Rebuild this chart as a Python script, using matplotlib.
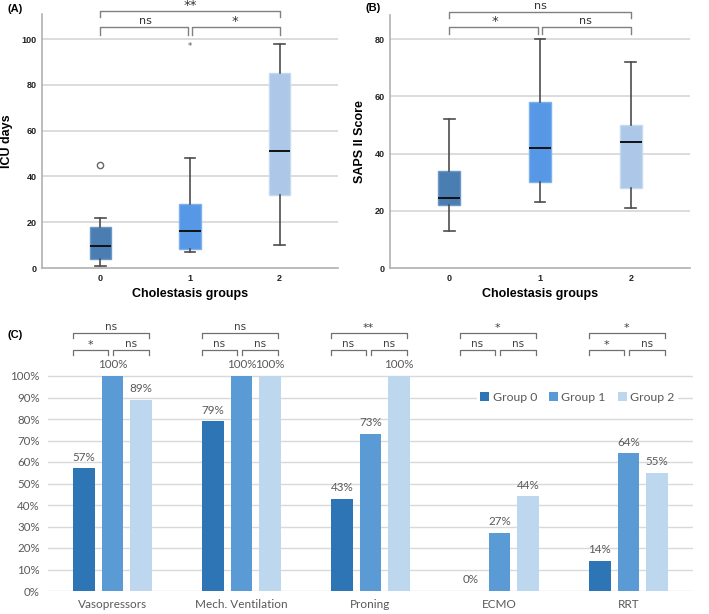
import matplotlib
matplotlib.use("Agg")
import matplotlib.pyplot as plt
from matplotlib.patches import Patch

# ---- data ----
groups = ["0", "1", "2"]
box_colors = ["#4A7DB1", "#5697E6", "#ACC7E8"]
box_edges = ["#6C98C6", "#7EB0EE", "#C5D9F1"]

# ICU days (panel A): low whisker, Q1, median, Q3, high whisker
icu_low = [1, 7, 10]
icu_q1 = [4, 8.5, 32]
icu_med = [9.5, 16, 51]
icu_q3 = [18, 28, 85]
icu_high = [22, 48, 98]
icu_outlier_circle = [45, None, None]
icu_outlier_star = [None, 97, None]

# SAPS II (panel B)
saps_low = [13, 23, 21]
saps_q1 = [22, 30, 28]
saps_med = [24.5, 42, 44]
saps_q3 = [34, 58, 50]
saps_high = [52, 80, 72]

# bracket labels (0-1, 1-2, 0-2)
icu_sig = ["ns", "*", "**"]
saps_sig = ["*", "ns", "ns"]

# panel C
categories = ["Vasopressors", "Mech. Ventilation", "Proning", "ECMO", "RRT"]
series_names = ["Group 0", "Group 1", "Group 2"]
group0 = [57, 79, 43, 0, 14]
group1 = [100, 100, 73, 27, 64]
group2 = [89, 100, 100, 44, 55]
bar_colors = ["#2E75B6", "#5B9BD5", "#BDD7EE"]
c_sig = [["*", "ns", "ns"], ["ns", "ns", "ns"], ["ns", "ns", "**"],
         ["ns", "ns", "*"], ["*", "ns", "*"]]

W, H = 709, 614
fig = plt.figure(figsize=(W / 100, H / 100), dpi=100)


def frac(x0, y_top, x1, y_bot):
    return [x0 / W, 1 - y_bot / H, (x1 - x0) / W, (y_bot - y_top) / H]


def sig_text(ax, x, y, s, fs_ns, fs_star, col, star_off=1.5):
    if "*" in s:
        # asterisks sit high in the glyph box: anchor on the baseline
        ax.annotate(s, (x, y), xytext=(0, star_off), textcoords="offset points",
                    ha="center", va="baseline", fontsize=fs_star, color=col,
                    family="DejaVu Sans", annotation_clip=False)
    else:
        ax.annotate(s, (x, y), xytext=(0, 0.5), textcoords="offset points",
                    ha="center", va="bottom", fontsize=fs_ns, color=col,
                    family="DejaVu Sans", annotation_clip=False)


def boxpanel(ax, low, q1, med, q3, high, ymax, yticks, ylabel, sig, brk):
    stats = []
    for i in range(3):
        stats.append(dict(whislo=low[i], q1=q1[i], med=med[i], q3=q3[i],
                          whishi=high[i], fliers=[], label=groups[i]))
    bp = ax.bxp(stats, positions=range(3), widths=0.24, patch_artist=True,
                showfliers=False, capwidths=0.12,
                whiskerprops=dict(color="#4d4d4d", lw=1.2),
                capprops=dict(color="#4d4d4d", lw=1.2),
                medianprops=dict(color="#111111", lw=1.4))
    for patch, fc, ec in zip(bp["boxes"], box_colors, box_edges):
        patch.set_facecolor(fc)
        patch.set_edgecolor(ec)
        patch.set_linewidth(1.0)
    for b in bp["whiskers"] + bp["caps"] + bp["boxes"] + bp["medians"]:
        b.set_zorder(3)
    ax.set_xlim(-0.65, 2.65)
    ax.set_ylim(0, ymax)
    ax.set_yticks(yticks)
    ax.set_yticklabels([str(t) for t in yticks], fontsize=6.5,
                       fontweight="bold", color="#222222", family="Liberation Sans")
    ax.set_xticks(range(3))
    ax.set_xticklabels(groups, fontsize=6.5, fontweight="bold",
                       color="#222222", family="Liberation Sans")
    ax.tick_params(length=0, pad=4)
    for t in yticks[1:]:
        ax.axhline(t, color="#d9d9d9", lw=1.3, zorder=1)
    for s in ["top", "right"]:
        ax.spines[s].set_visible(False)
    for s in ["left", "bottom"]:
        ax.spines[s].set_color("#b0b0b0")
        ax.spines[s].set_linewidth(1.2)
    ax.set_xlabel("Cholestasis groups", fontsize=9, fontweight="bold",
                  family="Liberation Sans", labelpad=4)
    ax.set_ylabel(ylabel, fontsize=9, fontweight="bold",
                  family="Liberation Sans", labelpad=6)
    # significance brackets: (lower line, lower tip, upper line, upper tip)
    lo, lo_tip, hi, hi_tip = brk
    kw = dict(color="#808080", lw=1.0, clip_on=False)
    ax.plot([0, 0, 0.98, 0.98], [lo_tip, lo, lo, lo_tip], **kw)
    ax.plot([1.02, 1.02, 2, 2], [lo_tip, lo, lo, lo_tip], **kw)
    ax.plot([0, 0, 2, 2], [hi_tip, hi, hi, hi_tip], **kw)
    sig_text(ax, 0.5, lo, sig[0], 8, 9.5, "#333333")
    sig_text(ax, 1.5, lo, sig[1], 8, 9.5, "#333333")
    sig_text(ax, 1.0, hi, sig[2], 8, 9.5, "#333333", star_off=0.8)


# ---- panel A ----
axA = fig.add_axes(frac(42, 14, 338, 268))
boxpanel(axA, icu_low, icu_q1, icu_med, icu_q3, icu_high, 111,
         [0, 20, 40, 60, 80, 100], "ICU days", icu_sig, (105.5, 102, 112.5, 109.5))
for i, v in enumerate(icu_outlier_circle):
    if v is not None:
        axA.plot(i, v, "o", mfc="white", mec="#666666", ms=4.5, mew=1.0, zorder=4)
for i, v in enumerate(icu_outlier_star):
    if v is not None:
        axA.text(i, v, "*", ha="center", va="center", fontsize=6,
                 color="#555555", zorder=4)
fig.text(8 / W, 1 - 9 / H, "(A)", fontsize=8, fontweight="bold",
         family="Liberation Sans", va="center")

# ---- panel B ----
axB = fig.add_axes(frac(390, 15, 690, 268))
boxpanel(axB, saps_low, saps_q1, saps_med, saps_q3, saps_high, 88.5,
         [0, 20, 40, 60, 80], "SAPS II Score", saps_sig, (84.3, 82, 89.6, 87.3))
fig.text(366 / W, 1 - 8 / H, "(B)", fontsize=8, fontweight="bold",
         family="Liberation Sans", va="center")

# ---- panel C ----
top_c = 1.27
axC = fig.add_axes(frac(48, 591 - top_c * 215, 693, 591))
x = list(range(len(categories)))
width = 0.17
offs = [-0.222, 0, 0.222]
series = [group0, group1, group2]
for k in range(3):
    xs = [xi + offs[k] for xi in x]
    vals = [v / 100 for v in series[k]]
    axC.bar(xs, vals, width=width, color=bar_colors[k], zorder=3,
            label=series_names[k])
    for xi, v in zip(xs, series[k]):
        axC.annotate(f"{v}%", (xi, v / 100), xytext=(0, 4),
                     textcoords="offset points", ha="center", va="bottom",
                     fontsize=8.4, color="#595959", family="Lato")
axC.set_xlim(-0.5, len(categories) - 0.5)
axC.set_ylim(0, top_c)
yt = [i / 10 for i in range(11)]
axC.set_yticks(yt)
axC.set_yticklabels([f"{int(t * 100)}%" for t in yt], fontsize=8.3,
                    color="#595959", family="Lato")
for t in yt:
    axC.plot([-0.5, len(categories) - 0.5], [t, t], color="#d9d9d9",
             lw=1.0, zorder=1)
axC.set_xticks(x)
axC.set_xticklabels(categories, fontsize=8.5, color="#595959", family="Lato")
axC.tick_params(length=0, pad=6)
for s in axC.spines.values():
    s.set_visible(False)

# brackets in C
kw = dict(color="#707070", lw=0.9, clip_on=False)
for xi, sig in zip(x, c_sig):
    l0, l1 = xi - 0.31, xi - 0.035
    r0, r1 = xi + 0.005, xi + 0.28
    axC.plot([l0, l0, l1, l1], [1.098, 1.121, 1.121, 1.098], **kw)
    axC.plot([r0, r0, r1, r1], [1.098, 1.121, 1.121, 1.098], **kw)
    axC.plot([l0, l0, r1, r1], [1.177, 1.200, 1.200, 1.177], **kw)
    sig_text(axC, (l0 + l1) / 2, 1.121, sig[0], 7.5, 8, "#404040")
    sig_text(axC, (r0 + r1) / 2, 1.121, sig[1], 7.5, 8, "#404040")
    sig_text(axC, (l0 + r1) / 2, 1.200, sig[2], 7.5, 8, "#404040")

handles = [Patch(facecolor=c, edgecolor="none") for c in bar_colors]
leg = axC.legend(handles, series_names, loc="center", ncol=3,
                 bbox_to_anchor=(0.821, 0.9 / top_c), frameon=True,
                 handlelength=0.7, handleheight=0.7, handletextpad=0.3,
                 columnspacing=1.0, borderpad=0.3,
                 prop=dict(family="Lato", size=8.8))
leg.get_frame().set_facecolor("white")
leg.get_frame().set_edgecolor("none")
leg.get_frame().set_alpha(1)
for t in leg.get_texts():
    t.set_color("#595959")
leg.set_zorder(5)
fig.text(8 / W, 1 - 335 / H, "(C)", fontsize=8, fontweight="bold",
         family="Liberation Sans", va="center")

fig.savefig("out.png", dpi=100)
